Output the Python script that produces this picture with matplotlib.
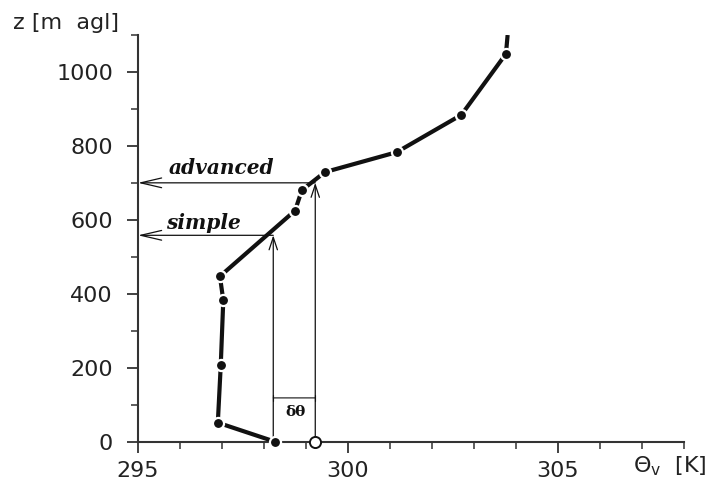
import matplotlib
matplotlib.use("Agg")
import matplotlib.pyplot as plt
from matplotlib.ticker import MultipleLocator

# profile of virtual potential temperature
theta_v = [298.25, 296.9, 296.97, 297.03, 296.95, 298.74, 298.9, 299.45, 301.16, 302.7, 303.76]
z_agl = [0, 51, 207, 382, 447, 625, 680, 729, 783, 884, 1049]
# line continues above the last sounding point
theta_top = [303.76, 303.8]
z_top = [1049, 1100]

# surface values and diagnosed boundary-layer heights
theta_simple, h_simple = 298.22, 558
theta_adv, h_adv = 299.22, 700
dtheta_z = 118

xticks = [295, 300, 305]
yticks = [0, 200, 400, 600, 800, 1000]

ink = "#111111"
fig = plt.figure(figsize=(7.1, 4.83), dpi=100)
ax = fig.add_axes([0.1944, 0.0859, 0.769, 0.8416])

ax.plot(theta_top, z_top, color=ink, lw=3, solid_capstyle="butt", zorder=3)
ax.plot(theta_v, z_agl, color=ink, lw=3, marker="o", ms=8,
        mfc=ink, mec="white", mew=1.6, zorder=4, clip_on=False)
ax.plot([theta_adv], [0], marker="o", ms=8, mfc="white", mec=ink, mew=1.4,
        zorder=5, clip_on=False)

up = dict(arrowstyle="->,head_length=0.9,head_width=0.3", color=ink, lw=0.9,
          shrinkA=0, shrinkB=0)
left = dict(arrowstyle="->,head_length=1.5,head_width=0.35", color=ink, lw=0.9,
            shrinkA=0, shrinkB=0)
# vertical arrows from the surface up to the intersection
ax.annotate("", xy=(theta_simple, h_simple), xytext=(theta_simple, 0), arrowprops=up)
ax.annotate("", xy=(theta_adv, h_adv), xytext=(theta_adv, 0), arrowprops=up)
# horizontal arrows to the z axis
ax.annotate("", xy=(295, h_simple), xytext=(theta_simple, h_simple), arrowprops=left,
            annotation_clip=False)
ax.annotate("", xy=(295, h_adv), xytext=(theta_adv, h_adv), arrowprops=left,
            annotation_clip=False)
# delta theta dimension
ax.annotate("", xy=(theta_adv, dtheta_z), xytext=(theta_simple, dtheta_z),
            arrowprops=dict(arrowstyle="|-|,widthA=0.2,widthB=0.2", color=ink, lw=0.8,
                            shrinkA=0, shrinkB=0))
ax.text(298.74, 80, "δθ", fontsize=11, fontweight="bold", ha="center", va="center",
        color=ink, family="DejaVu Serif")

ax.text(297.0, 739, "advanced", fontsize=14.5, fontstyle="italic", fontweight="bold",
        family="DejaVu Serif", ha="center", va="center", color=ink)
ax.text(296.55, 591, "simple", fontsize=14.5, fontstyle="italic", fontweight="bold",
        family="DejaVu Serif", ha="center", va="center", color=ink)

ax.set_xlim(295, 308)
ax.set_ylim(0, 1100)
ax.set_xticks(xticks)
ax.set_yticks(yticks)
ax.xaxis.set_minor_locator(MultipleLocator(1))
ax.yaxis.set_minor_locator(MultipleLocator(100))
for side in ("top", "right"):
    ax.spines[side].set_visible(False)
for side in ("left", "bottom"):
    ax.spines[side].set_color("#333333")
    ax.spines[side].set_linewidth(1.5)
ax.tick_params(which="major", direction="out", length=8, width=1.3, color="#333333",
               labelsize=16, labelcolor="#222222")
ax.tick_params(which="minor", direction="out", length=5, width=1.1, color="#333333")
ax.tick_params(axis="y", which="major", pad=10)
ax.tick_params(axis="x", which="major", pad=6)

fig.text(13 / 710, 1 - 23 / 483, "z [m  agl]", fontsize=16, ha="left", va="center",
         color="#222222")
fig.text(707 / 710, 1 - 466 / 483, r"Θ$_\mathrm{v}$  [K]", fontsize=16,
         ha="right", va="center", color="#222222")

fig.savefig("out.png", dpi=100)
